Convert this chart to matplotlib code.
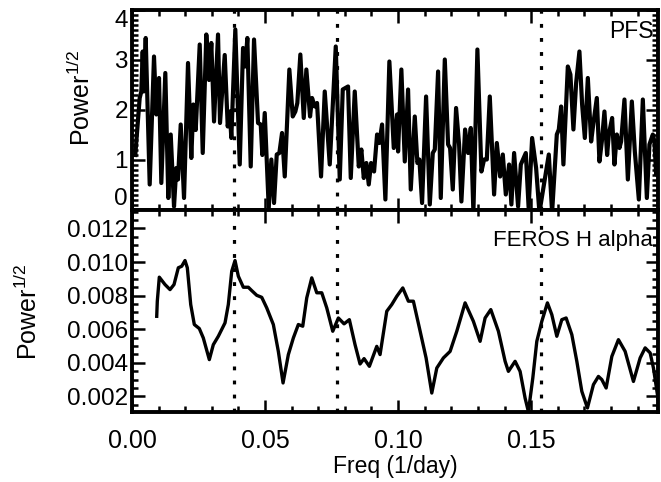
import matplotlib
matplotlib.use('Agg')
import matplotlib.pyplot as plt
from matplotlib.ticker import MultipleLocator, FormatStrFormatter

plt.rcParams['font.family'] = ['Liberation Sans', 'DejaVu Sans']
plt.rcParams['mathtext.default'] = 'regular'

# PFS periodogram, sqrt(power) vs frequency (1/day)
pfs_freq = [0.00124, 0.00289, 0.00350, 0.00402, 0.00440, 0.00515, 0.00665, 0.00827,
            0.00914, 0.01015, 0.01102, 0.01252, 0.01365, 0.01455, 0.01579, 0.01665,
            0.01729, 0.01831, 0.01955, 0.02105, 0.02229, 0.02305, 0.02395, 0.02545,
            0.02658, 0.02793, 0.02895, 0.02981, 0.03083, 0.03233, 0.03308, 0.03485,
            0.03598, 0.03673, 0.03733, 0.03883, 0.04049, 0.04173, 0.04259, 0.04335,
            0.04462, 0.04586, 0.04737, 0.04838, 0.04898, 0.04989, 0.05139, 0.05237,
            0.05338, 0.05440, 0.05538, 0.05639, 0.05741, 0.05914, 0.06041, 0.06139,
            0.06214, 0.06327, 0.06455, 0.06553, 0.06692, 0.06767, 0.06868, 0.06955,
            0.07105, 0.07244, 0.07432, 0.07658, 0.07808, 0.07921, 0.08120, 0.08222,
            0.08372, 0.08523, 0.08620, 0.08711, 0.08808, 0.08898, 0.08985, 0.09098,
            0.09211, 0.09297, 0.09398, 0.09523, 0.09673, 0.09838, 0.09962, 0.10000,
            0.10124, 0.10252, 0.10376, 0.10477, 0.10628, 0.10726, 0.10801, 0.10902,
            0.11053, 0.11192, 0.11305, 0.11380, 0.11504, 0.11605, 0.11756, 0.11880,
            0.11955, 0.12056, 0.12180, 0.12293, 0.12380, 0.12519, 0.12632, 0.12733,
            0.12831, 0.12981, 0.13132, 0.13233, 0.13335, 0.13447, 0.13609, 0.13711,
            0.13835, 0.13936, 0.14049, 0.14173, 0.14259, 0.14361, 0.14511, 0.14613,
            0.14801, 0.14906, 0.15038, 0.15188, 0.15312, 0.15665, 0.15789, 0.15966,
            0.16041, 0.16128, 0.16214, 0.16380, 0.16477, 0.16590, 0.16692, 0.16816,
            0.16917, 0.17019, 0.17132, 0.17256, 0.17342, 0.17470, 0.17568, 0.17658,
            0.17756, 0.17857, 0.17921, 0.18045, 0.18132, 0.18222, 0.18320, 0.18383,
            0.18508, 0.18636, 0.18786, 0.18898, 0.19049, 0.19199, 0.19350, 0.19447,
            0.19575, 0.19635, 0.19699, 0.19763]
pfs_power = [1.10, 2.24, 2.37, 3.17, 2.37, 3.44, 0.51, 3.07,
             1.91, 2.64, 0.54, 2.74, 0.24, 1.51, 0.07, 0.84,
             0.61, 1.71, 0.24, 2.94, 1.04, 2.11, 1.60, 3.31,
             1.14, 3.51, 2.60, 3.34, 1.77, 3.51, 1.74, 3.10,
             1.67, 1.97, 1.44, 3.61, 0.91, 3.24, 2.87, 3.44,
             0.87, 3.41, 1.74, 1.71, 1.10, 1.94, 0.04, 1.01,
             0.14, 1.11, 1.14, 1.54, 0.67, 2.81, 1.87, 1.97,
             2.14, 3.11, 1.84, 2.81, 1.87, 2.24, 2.07, 2.14,
             0.67, 2.37, 0.91, 3.27, 0.61, 2.41, 2.47, 0.64,
             2.37, 0.87, 1.21, 0.64, 0.94, 0.51, 0.94, 0.77,
             1.51, 1.34, 1.71, 0.21, 2.97, 1.24, 1.91, 1.17,
             2.81, 0.97, 2.41, 0.41, 1.87, 0.94, 1.01, 0.14,
             2.27, 0.11, 1.14, 1.21, 2.77, 0.24, 3.01, 1.31,
             1.24, 0.41, 2.04, 1.31, 0.17, 1.61, 1.14, 1.64,
             -0.05, 3.21, 0.77, 1.01, 1.01, 2.27, 0.31, 1.34,
             0.67, 1.11, 0.31, 0.91, 0.11, 1.14, 0.07, 0.91,
             1.14, 0.05, 1.44, 0.84, -0.05, 1.11, -0.05, 1.51,
             1.61, 2.07, 0.91, 2.87, 2.71, 1.61, 2.54, 3.17,
             2.11, 1.44, 2.64, 1.37, 1.74, 2.24, 0.97, 1.37,
             1.97, 1.10, 1.51, 1.84, 0.91, 1.51, 1.24, 1.37,
             2.21, 0.61, 2.17, 1.17, 0.21, 2.21, 0.24, 1.31,
             1.51, 1.37, 0.71, 1.24]

# FEROS H alpha periodogram
feros_freq = [0.00929, 0.00951, 0.01026, 0.01241, 0.01429, 0.01579, 0.01741, 0.01868,
              0.01992, 0.02079, 0.02207, 0.02342, 0.02530, 0.02680, 0.02906, 0.03056,
              0.03244, 0.03496, 0.03620, 0.03748, 0.03872, 0.03996, 0.04184, 0.04372,
              0.04500, 0.04688, 0.04876, 0.05064, 0.05312, 0.05500, 0.05677, 0.05876,
              0.06064, 0.06252, 0.06417, 0.06568, 0.06756, 0.06944, 0.07132, 0.07320,
              0.07545, 0.07756, 0.07970, 0.08169, 0.08383, 0.08571, 0.08722, 0.08921,
              0.09199, 0.09323, 0.09575, 0.09763, 0.09951, 0.10177, 0.10387, 0.10575,
              0.10801, 0.11053, 0.11267, 0.11455, 0.11703, 0.11955, 0.12207, 0.12519,
              0.12831, 0.13083, 0.13271, 0.13485, 0.13771, 0.14023, 0.14147, 0.14398,
              0.14586, 0.14774, 0.14898, 0.15064, 0.15214, 0.15402, 0.15613, 0.15778,
              0.15966, 0.16154, 0.16316, 0.16530, 0.16718, 0.16906, 0.17117, 0.17342,
              0.17530, 0.17658, 0.17820, 0.18034, 0.18282, 0.18534, 0.18846, 0.19098,
              0.19286, 0.19474, 0.19598, 0.19774]
feros_power = [0.00677, 0.00767, 0.00910, 0.00866, 0.00836, 0.00866, 0.00966, 0.00975,
               0.01009, 0.00966, 0.00747, 0.00628, 0.00604, 0.00548, 0.00419, 0.00508,
               0.00558, 0.00638, 0.00747, 0.00945, 0.01009, 0.00916, 0.00850, 0.00850,
               0.00830, 0.00802, 0.00790, 0.00727, 0.00628, 0.00468, 0.00280, 0.00449,
               0.00548, 0.00628, 0.00618, 0.00787, 0.00906, 0.00817, 0.00817, 0.00727,
               0.00588, 0.00667, 0.00632, 0.00657, 0.00508, 0.00393, 0.00425, 0.00379,
               0.00498, 0.00449, 0.00707, 0.00747, 0.00796, 0.00846, 0.00767, 0.00767,
               0.00608, 0.00429, 0.00220, 0.00369, 0.00429, 0.00468, 0.00588, 0.00757,
               0.00647, 0.00528, 0.00667, 0.00717, 0.00588, 0.00409, 0.00349, 0.00409,
               0.00349, 0.00190, 0.00109, 0.00310, 0.00528, 0.00647, 0.00757, 0.00687,
               0.00558, 0.00657, 0.00667, 0.00568, 0.00409, 0.00230, 0.00131, 0.00270,
               0.00319, 0.00300, 0.00250, 0.00438, 0.00538, 0.00468, 0.00289, 0.00429,
               0.00489, 0.00459, 0.00369, 0.00183]

# harmonics of the 26 day period
marks = [1/26., 2/26., 4/26.]

xmax = 0.1977

fig = plt.figure(figsize=(6.61, 4.82), dpi=100)
ax1 = fig.add_axes([0.1997, 0.5643, 0.7958, 0.4150])
ax2 = fig.add_axes([0.1997, 0.1452, 0.7958, 0.4191])

for ax in (ax1, ax2):
    for m in marks:
        ax.axvline(m, color='black', lw=2.3, dashes=(1.2, 3.2))
    ax.set_xlim(0, xmax)
    ax.xaxis.set_major_locator(MultipleLocator(0.05))
    ax.xaxis.set_minor_locator(MultipleLocator(0.01))
    ax.tick_params(which='both', direction='in', top=True, right=True, width=1.8)
    ax.tick_params(axis='y', labelsize=17.5, pad=3)
    ax.tick_params(axis='x', labelsize=18, pad=12)
    ax.tick_params(which='major', length=9)
    ax.tick_params(which='minor', length=4.5)
    for s in ax.spines.values():
        s.set_linewidth(2.8)

ax1.plot(pfs_freq, pfs_power, color='black', lw=3.0, solid_joinstyle='round')
ax1.set_ylim(0, 4)
ax1.yaxis.set_major_locator(MultipleLocator(1))
ax1.yaxis.set_minor_locator(MultipleLocator(0.1))
ax1.set_xticklabels([])
ax1.set_ylabel('$Power^{1/2}$', fontsize=18)
ax1.yaxis.set_label_coords(-0.071, 0.56)
ax1.text(0.992, 0.95, 'PFS', transform=ax1.transAxes, ha='right', va='top', fontsize=16.5)
fig.canvas.draw()
for t in ax1.get_yticklabels():
    if t.get_text() == '0':
        t.set_va('bottom')
    if t.get_text() == '4':
        t.set_va('top')

ax2.plot(feros_freq, feros_power, color='black', lw=2.4, solid_joinstyle='round')
ax2.set_ylim(0.00107, 0.0131)
ax2.yaxis.set_major_locator(MultipleLocator(0.002))
ax2.yaxis.set_minor_locator(MultipleLocator(0.0005))
ax2.yaxis.set_major_formatter(FormatStrFormatter('%.3f'))
ax2.xaxis.set_major_formatter(FormatStrFormatter('%.2f'))
ax2.set_ylabel('$Power^{1/2}$', fontsize=18)
ax2.yaxis.set_label_coords(-0.171, 0.497)
ax2.set_xlabel('Freq (1/day)', fontsize=16.5, labelpad=2)
ax2.text(0.99, 0.9, 'FEROS H alpha', transform=ax2.transAxes, ha='right', va='top',
         fontsize=16, bbox=dict(facecolor='white', edgecolor='none', pad=0.5))

fig.savefig('out.png', dpi=100)
